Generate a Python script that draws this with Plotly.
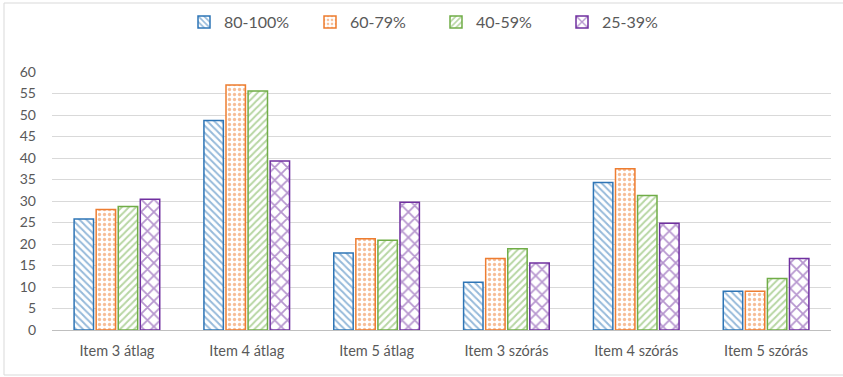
import plotly.graph_objects as go

categories = ["Item 3 átlag", "Item 4 átlag", "Item 5 átlag", "Item 3 szórás", "Item 4 szórás", "Item 5 szórás"]
series_names = ["80-100%", "60-79%", "40-59%", "25-39%"]
v_80_100 = [25.8, 48.7, 17.9, 11.1, 34.3, 9.0]
v_60_79 = [28.0, 57.0, 21.2, 16.6, 37.5, 9.0]
v_40_59 = [28.7, 55.6, 20.9, 18.9, 31.3, 12.0]
v_25_39 = [30.4, 39.3, 29.7, 15.6, 24.8, 16.6]
y_ticks = [0, 5, 10, 15, 20, 25, 30, 35, 40, 45, 50, 55, 60]

colors = ["#2E75B6", "#ED7D31", "#70AD47", "#7030A0"]
shapes = ["\\", ".", "/", "x"]
solid = [0.4, 0.35, 0.4, 0.35]
sizes = [5, 5, 5, 9]
values = [v_80_100, v_60_79, v_40_59, v_25_39]

fig = go.Figure()
for name, vals, c, sh, so, sz in zip(series_names, values, colors, shapes, solid, sizes):
    fig.add_trace(go.Bar(
        x=categories, y=vals, name=name,
        marker=dict(color="white", line=dict(color=c, width=1.5),
                    pattern=dict(shape=sh, fgcolor=c, bgcolor="white", size=sz, solidity=so, fillmode="overlay")),
    ))

W, H = 843, 377
L, R, T, B = 52, 12, 72, 47
pw, ph = W - L - R, H - T - B

fig.update_layout(
    width=W, height=H,
    margin=dict(l=L, r=R, t=T, b=B),
    paper_bgcolor="white", plot_bgcolor="white",
    barmode="group", bargap=0.32, bargroupgap=0.12,
    font=dict(family="Lato, Open Sans, sans-serif", color="#595959"),
    legend=dict(orientation="h", xref="container", yref="container",
                x=436 / W, xanchor="center", y=1 - 22 / H, yanchor="middle",
                font=dict(size=16, color="#595959"), itemwidth=30, traceorder="normal",
                entrywidth=81, entrywidthmode="pixels"),
    xaxis=dict(showgrid=False, showline=True, linecolor="#BFBFBF", linewidth=1,
               tickfont=dict(size=14.5, color="#595959"), ticks="", ticklabelstandoff=8),
    yaxis=dict(range=[0, 60], tickvals=y_ticks, showgrid=True, gridcolor="#D9D9D9", gridwidth=1,
               zeroline=False, showline=False, tickfont=dict(size=14, color="#595959"),
               ticks="", ticklabelstandoff=15),
    shapes=[dict(type="rect", xref="paper", yref="paper",
                 x0=(4 - L) / pw, x1=(846 - L) / pw,
                 y0=(330 - 375) / ph, y1=(330 - 3) / ph,
                 line=dict(color="#D9D9D9", width=1), layer="below")],
)

fig.write_html("out.html")
